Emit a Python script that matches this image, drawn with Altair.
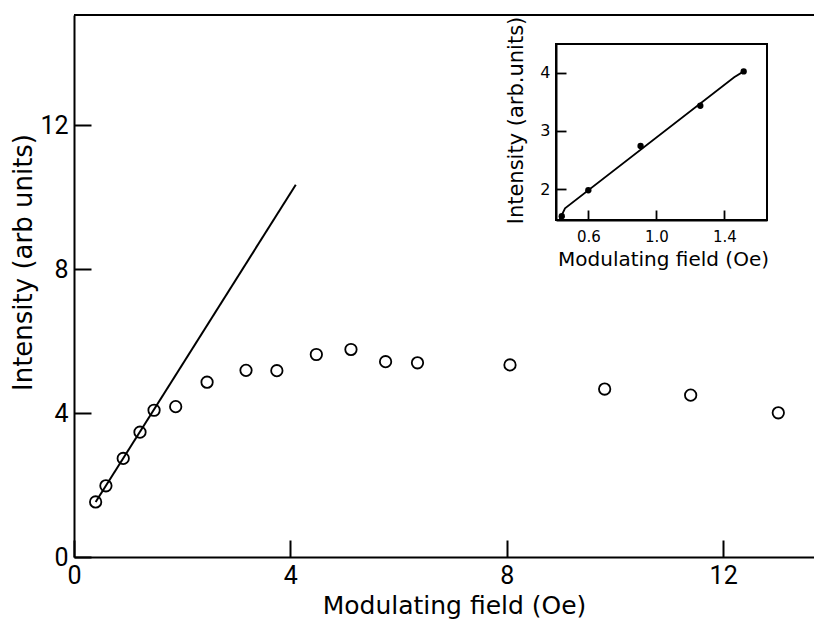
import altair as alt
import pandas as pd

# ---------------- data ----------------
main_x = [0.40, 0.59, 0.91, 1.22, 1.48, 1.88, 2.46, 3.18, 3.75, 4.48, 5.12, 5.76, 6.35, 8.06, 9.81, 11.40, 13.02]
main_y = [1.53, 1.98, 2.74, 3.47, 4.08, 4.18, 4.86, 5.19, 5.18, 5.63, 5.77, 5.43, 5.40, 5.34, 4.67, 4.50, 4.01]
fit_x = [0.40, 4.10]
fit_y = [1.53, 10.35]

inset_x = [0.444, 0.60, 0.907, 1.258, 1.513]
inset_y = [1.536, 1.98, 2.74, 3.43, 4.02]
inset_fit_x = [0.43, 0.463, 1.457, 1.513]
inset_fit_y = [1.47, 1.67, 3.92, 4.02]

main_xticks = [0, 4, 8, 12]
main_yticks = [0, 4, 8, 12]
inset_xticks = [0.6, 1.0, 1.4]
inset_yticks = [2, 3, 4]

main_xdom = [0, 13.68]
main_ydom = [0, 15.07]
inset_xdom = [0.41, 1.65]
inset_ydom = [1.47, 4.49]

# ---------------- layout (pixels, relative to plot area) ----------------
W, H = 740, 542
IX0, IX1 = 482, 693   # inset horizontal extent
IYB, IYT = 205, 29    # inset vertical extent (bottom, top)
MAIN_TICK = 17        # inward tick length, px
INSET_TICK = 10

TEXT_FONT = "DejaVu Sans"
NUM_FONT = "Roboto"

xs_main = alt.Scale(domain=main_xdom, nice=False, zero=False)
ys_main = alt.Scale(domain=main_ydom, nice=False, zero=False)
xs_in = alt.Scale(domain=inset_xdom, range=[IX0, IX1], nice=False, zero=False)
ys_in = alt.Scale(domain=inset_ydom, range=[IYB, IYT], nice=False, zero=False)


def inward(n):
    # negative tick length draws the ticks inside the frame
    return {"expr": str(-n)}


ax_main_x = alt.Axis(
    orient="bottom", values=main_xticks, ticks=True, tickSize=inward(MAIN_TICK),
    tickColor="black", tickWidth=2, tickOpacity=1, grid=False, zindex=2,
    domainColor="black", domainWidth=2,
    labelFont=NUM_FONT, labelFontSize=25, labelColor="black",
    labelBaseline="alphabetic", labelPadding=26 + MAIN_TICK, labelFlush=False,
    title="Modulating  field (Oe)", titleFont=TEXT_FONT, titleFontSize=25,
    titleFontWeight="normal", titleColor="black",
    titleX=380, titleY=56, titleBaseline="alphabetic", titleAnchor="middle",
)
ax_main_y = alt.Axis(
    orient="left", values=main_yticks, ticks=True, tickSize=inward(MAIN_TICK),
    tickColor="black", tickWidth=2, tickOpacity=1, grid=False, zindex=2,
    domainColor="black", domainWidth=2,
    labelFont=NUM_FONT, labelFontSize=25, labelColor="black",
    labelPadding=6 + MAIN_TICK, labelFlush=False,
    title="Intensity (arb units)", titleFont=TEXT_FONT, titleFontSize=26,
    titleFontWeight="normal", titleColor="black",
    titleX=-51, titleY=247, titleBaseline="middle", titleAnchor="middle",
)
ax_in_x = alt.Axis(
    orient="bottom", offset=-(H - IYB), values=inset_xticks, ticks=True,
    tickSize=inward(INSET_TICK), tickColor="black", tickWidth=1.8, tickOpacity=1,
    grid=False, zindex=2, domainColor="black", domainWidth=2, format=".1f",
    labelFont=TEXT_FONT, labelFontSize=15, labelColor="black",
    labelBaseline="alphabetic", labelPadding=21 + INSET_TICK, labelFlush=False,
    title="Modulating  field (Oe)", titleFont=TEXT_FONT, titleFontSize=20,
    titleFontWeight="normal", titleColor="black",
    titleX=589, titleY=45, titleBaseline="alphabetic", titleAnchor="middle",
)
ax_in_y = alt.Axis(
    orient="left", offset=-IX0, values=inset_yticks, ticks=True,
    tickSize=inward(INSET_TICK), tickColor="black", tickWidth=1.8, tickOpacity=1,
    grid=False, zindex=2, domainColor="black", domainWidth=2,
    labelFont=TEXT_FONT, labelFontSize=16, labelColor="black",
    labelPadding=6 + INSET_TICK, labelFlush=False,
    title="Intensity (arb.units)", titleFont=TEXT_FONT, titleFontSize=21,
    titleFontWeight="normal", titleColor="black",
    titleX=-40, titleY=105, titleBaseline="middle", titleAnchor="middle",
)

# ---------------- main panel ----------------
df_main = pd.DataFrame({"x": main_x, "y": main_y})
df_fit = pd.DataFrame({"x": fit_x, "y": fit_y})
df_top = pd.DataFrame({"x": [main_xdom[0], main_xdom[1]], "y": [main_ydom[1], main_ydom[1]]})

X_M = alt.X("x:Q", scale=xs_main, axis=ax_main_x)
Y_M = alt.Y("y:Q", scale=ys_main, axis=ax_main_y)

top_border = alt.Chart(df_top).mark_line(color="black", strokeWidth=2).encode(x=X_M, y=Y_M)
main_line = alt.Chart(df_fit).mark_line(color="black", strokeWidth=2).encode(x=X_M, y=Y_M)
main_pts = alt.Chart(df_main).mark_point(
    shape="circle", filled=False, color="black", size=130, strokeWidth=1.8, opacity=1
).encode(x=X_M, y=Y_M)
main = alt.layer(top_border, main_line, main_pts)

# ---------------- inset panel ----------------
df_in = pd.DataFrame({"x": inset_x, "y": inset_y})
df_infit = pd.DataFrame({"x": inset_fit_x, "y": inset_fit_y})
df_frame = pd.DataFrame({"x": [inset_xdom[0]], "x2": [inset_xdom[1]],
                         "y": [inset_ydom[0]], "y2": [inset_ydom[1]]})

X_I = alt.X("x:Q", scale=xs_in, axis=ax_in_x)
Y_I = alt.Y("y:Q", scale=ys_in, axis=ax_in_y)

in_frame = alt.Chart(df_frame).mark_rect(
    fill="white", fillOpacity=0, stroke="black", strokeWidth=2
).encode(x=X_I, x2="x2:Q", y=Y_I, y2="y2:Q")
in_line = alt.Chart(df_infit).mark_line(color="black", strokeWidth=1.8).encode(x=X_I, y=Y_I)
in_pts = alt.Chart(df_in).mark_point(
    shape="circle", filled=True, color="black", size=40, opacity=1
).encode(x=X_I, y=Y_I)
inset = alt.layer(in_frame, in_line, in_pts)

chart = alt.layer(main, inset).resolve_scale(
    x="independent", y="independent"
).properties(
    width=W, height=H,
    padding={"left": 66, "top": 7, "right": 0, "bottom": 62},
    autosize=alt.AutoSizeParams(type="none"),
    background="white",
).configure_view(strokeWidth=0)

chart.save("out.html", embed_options={"renderer": "svg", "actions": False})
